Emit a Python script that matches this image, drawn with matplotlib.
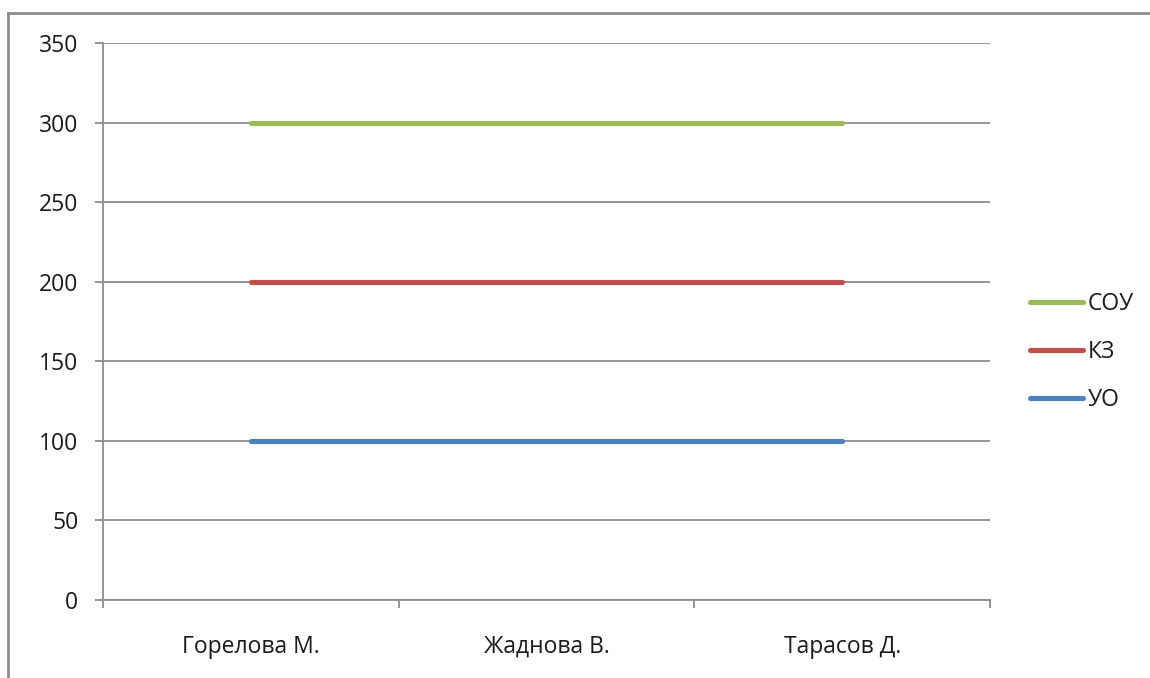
import matplotlib
matplotlib.use("Agg")
import matplotlib.pyplot as plt
from matplotlib.lines import Line2D
import numpy as np

plt.rcParams['font.family'] = ['Open Sans', 'DejaVu Sans']

categories = ["Горелова М.", "Жаднова В.", "Тарасов Д."]
series_names = ["УО", "КЗ", "СОУ"]
uo = [100, 100, 100]
kz = [100, 100, 100]
sou = [100, 100, 100]
colors = ["#4F81BD", "#C0504D", "#9BBB59"]
yticks = [0, 50, 100, 150, 200, 250, 300, 350]

W, H = 1150, 678
fig = plt.figure(figsize=(W / 100, H / 100), dpi=100)
ax = fig.add_axes([103 / W, 1 - 600 / H, (990 - 103) / W, (600 - 43) / H])

x = np.arange(len(categories))
stacked = np.cumsum(np.array([uo, kz, sou]), axis=0)
handles = []
for name, vals, c in zip(series_names, stacked, colors):
    h, = ax.plot(x, vals, color=c, lw=3.7, solid_capstyle='round', zorder=3, label=name)
    handles.append(h)

FS = 16.5
txt_c = "#1A1A1A"
grid_c = "#8C8C8C"
ax.set_xlim(-0.5, len(categories) - 0.5)
ax.set_ylim(0, 350)
ax.set_yticks(yticks)
ax.yaxis.grid(True, color=grid_c, lw=1.3)
ax.set_axisbelow(True)
for s in ["top", "right"]:
    ax.spines[s].set_visible(False)
for s in ["left", "bottom"]:
    ax.spines[s].set_color(grid_c)
    ax.spines[s].set_linewidth(1.3)

ax.set_xticks(x)
ax.set_xticklabels(categories)
ax.set_xticks(np.arange(len(categories) + 1) - 0.5, minor=True)
ax.tick_params(axis='x', which='major', length=0, pad=25, labelsize=FS, labelcolor=txt_c)
ax.tick_params(axis='x', which='minor', length=5.8, width=1.3, color=grid_c, direction='out')
ax.tick_params(axis='y', length=5.8, width=1.3, color=grid_c, pad=12, labelsize=FS, labelcolor=txt_c)

leg = fig.legend(handles[::-1], series_names[::-1], loc='upper left',
                 bbox_to_anchor=(1021 / W, 1 - 283 / H), frameon=False,
                 fontsize=FS, handlelength=2.3, handletextpad=0.2,
                 labelspacing=1.05, borderaxespad=0)
for t in leg.get_texts():
    t.set_color(txt_c)

# outer chart border (partially clipped)
border_c = "#8C8C8C"
fig.add_artist(Line2D([8 / W, 1.0], [1 - 13 / H, 1 - 13 / H], color=border_c, lw=2.0, transform=fig.transFigure))
fig.add_artist(Line2D([8 / W, 8 / W], [1 - 13 / H, 0], color=border_c, lw=2.0, transform=fig.transFigure))

fig.savefig("out.png", dpi=100)
